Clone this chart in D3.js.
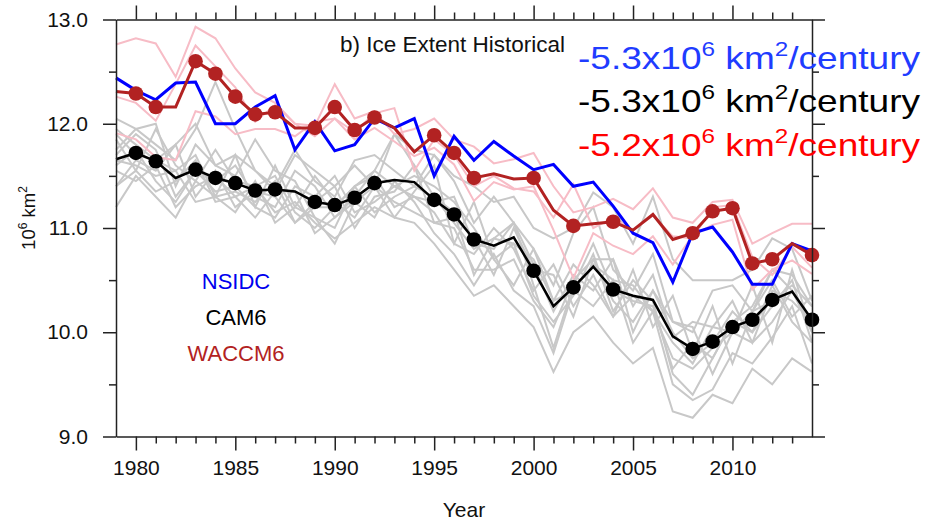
<!DOCTYPE html>
<html><head><meta charset="utf-8">
<script src="https://cdn.jsdelivr.net/npm/d3@7/dist/d3.min.js"></script>
<style>
body{margin:0;background:#fff;}
svg{display:block;}
text{font-family:"Liberation Sans",Arial,Helvetica,sans-serif;}
</style>
</head><body>
<svg id="c" width="935" height="522"></svg>
<script>
const years = [1979,1980,1981,1982,1983,1984,1985,1986,1987,1988,1989,1990,1991,1992,1993,1994,1995,1996,1997,1998,1999,2000,2001,2002,2003,2004,2005,2006,2007,2008,2009,2010,2011,2012,2013,2014];
const markerYears = [1980,1981,1983,1984,1985,1986,1987,1989,1990,1991,1992,1995,1996,1997,2000,2002,2004,2008,2009,2010,2011,2012,2014];

const nsidc = [12.44,12.32,12.23,12.39,12.40,12.00,12.00,12.16,12.27,11.75,12.02,11.74,11.80,12.05,11.96,12.05,11.50,11.88,11.65,11.83,11.69,11.56,11.61,11.40,11.44,11.21,10.95,10.86,10.48,10.95,11.01,10.77,10.46,10.46,10.85,10.78];
const cam6 = [11.66,11.72,11.64,11.48,11.56,11.48,11.43,11.36,11.37,11.35,11.25,11.22,11.29,11.43,11.46,11.44,11.27,11.13,10.89,10.83,10.91,10.59,10.25,10.43,10.63,10.41,10.35,10.31,9.96,9.84,9.91,10.05,10.12,10.31,10.39,10.12];
const waccm6 = [12.31,12.29,12.16,12.16,12.60,12.48,12.26,12.09,12.11,11.96,11.96,12.16,11.94,12.06,11.96,11.73,11.89,11.72,11.48,11.52,11.47,11.48,11.17,11.02,11.04,11.06,10.98,11.13,10.89,10.95,11.16,11.19,10.66,10.70,10.85,10.74];

const waccmMember1 = [12.76,12.82,12.77,12.45,12.93,12.82,12.53,12.30,12.20,12.00,11.98,12.38,12.05,12.12,11.90,11.95,12.05,11.85,11.78,11.62,11.66,11.72,11.40,11.15,11.20,11.28,11.18,11.38,11.10,11.05,11.25,11.27,10.85,10.95,11.04,11.04];
const waccmMember2 = [12.26,12.20,12.03,12.38,12.75,12.55,12.35,12.02,12.18,12.00,11.88,12.05,11.92,12.10,12.15,11.55,11.85,11.70,11.40,11.50,11.38,11.35,11.10,11.42,11.00,11.10,10.98,11.12,10.92,10.90,11.20,11.22,10.72,10.55,10.82,10.62];
const waccmMember3 = [11.91,11.85,11.68,11.65,12.12,12.07,11.90,11.95,11.95,11.88,12.02,12.05,11.85,11.96,11.83,11.69,11.77,11.61,11.26,11.44,11.37,11.40,10.98,10.52,10.95,10.83,10.75,10.92,10.65,10.93,11.03,11.08,10.41,10.60,10.69,10.56];

const camMember1 = [12.05,11.95,11.80,11.65,11.95,12.40,11.95,11.55,11.40,11.75,11.45,11.30,11.65,11.70,11.55,11.40,11.70,11.45,11.05,11.30,11.05,10.80,10.45,10.95,11.20,10.60,10.40,10.75,10.10,10.00,10.40,10.45,10.20,10.60,10.55,10.25];
const camMember2 = [11.75,11.95,12.00,11.40,11.80,11.60,11.50,11.85,11.55,11.45,11.10,11.00,11.40,11.55,11.90,11.60,11.30,11.15,10.55,10.90,10.85,10.35,10.10,10.35,10.75,10.20,10.50,10.30,9.60,9.40,9.75,10.10,10.25,10.60,10.40,10.05];
const camMember3 = [11.40,11.65,11.55,11.80,11.30,11.55,11.20,11.35,11.30,11.05,11.25,11.40,11.00,11.30,11.35,11.60,11.05,11.10,10.90,10.55,11.00,10.60,10.55,10.15,10.70,10.70,10.00,10.40,10.10,10.05,9.60,10.00,10.45,9.90,10.60,10.00];
const camMember4 = [11.95,11.80,11.65,11.55,11.70,11.30,11.70,11.20,11.60,11.20,11.50,11.25,11.10,11.40,11.10,11.35,11.60,10.85,11.25,10.70,10.45,10.80,10.30,10.65,10.45,10.15,10.60,10.05,10.35,9.80,10.25,9.70,10.20,10.50,10.15,10.35];
const camMember5 = [11.20,11.50,11.30,11.10,11.45,11.30,11.15,11.45,11.05,11.20,11.10,10.85,11.25,11.10,11.45,11.25,10.95,10.75,10.45,10.75,10.40,10.25,9.80,10.40,10.25,10.50,9.90,10.20,9.50,9.35,9.45,9.80,9.70,9.95,10.25,9.70];
const camMember6 = [11.60,11.75,11.45,11.25,11.55,11.35,11.40,11.20,11.10,11.40,11.30,11.50,11.15,11.25,11.40,11.30,11.25,11.30,10.85,10.80,11.05,10.65,10.20,10.55,10.40,10.70,10.25,10.55,9.95,10.10,10.05,10.30,9.90,10.40,10.30,10.10];
const camMember7 = [11.85,11.55,11.95,11.60,11.45,11.75,11.45,11.40,11.50,11.15,11.00,11.20,11.40,11.50,11.20,11.30,11.15,10.85,10.75,11.00,10.80,10.40,10.65,10.25,10.55,10.15,10.35,10.20,9.75,9.65,9.85,10.00,9.90,10.10,10.40,10.00];
const camMember8 = [11.40,11.55,11.35,11.45,11.65,11.25,11.30,11.10,11.35,11.35,10.95,11.10,11.25,11.40,11.25,11.15,11.05,11.00,10.60,10.60,10.70,10.30,10.05,10.50,10.70,10.30,10.10,10.40,10.00,9.75,9.90,10.20,10.00,10.25,10.50,9.90];
const camMember9 = [11.70,11.90,11.75,11.30,11.55,11.45,11.60,11.30,11.20,11.55,11.40,11.10,11.30,11.55,11.40,11.50,11.40,11.25,11.00,10.70,10.85,10.70,10.30,10.40,10.65,10.50,10.45,10.20,9.90,9.70,10.05,10.00,10.20,10.30,10.45,10.25];
const camMember10 = [11.65,11.60,11.50,11.55,11.25,11.30,11.35,11.25,11.45,11.05,11.20,11.20,11.40,11.15,11.30,11.40,11.30,11.05,10.80,10.90,11.05,10.45,9.85,10.45,10.85,10.40,10.30,10.25,9.65,9.90,9.75,10.10,10.00,10.45,10.10,9.90];
const camMember11 = [11.55,11.45,11.60,11.20,11.40,11.50,11.30,11.40,11.15,11.25,11.05,10.90,11.05,11.20,11.10,11.05,10.85,10.60,10.35,10.45,10.25,10.05,9.62,10.00,10.15,9.90,9.70,9.85,9.24,9.18,9.40,9.32,9.65,9.50,9.75,9.62];
const camMember12 = [11.90,11.70,11.65,11.80,12.00,11.60,11.70,11.55,11.35,11.70,11.55,11.40,11.60,11.40,11.90,11.75,11.70,11.50,11.40,11.25,11.30,11.00,10.90,11.00,11.34,11.20,10.85,11.30,10.70,10.50,10.50,10.50,10.60,10.90,10.80,10.30];

const xMajorTicks = [1980,1985,1990,1995,2000,2005,2010];
const yMajorTicks = [9.0,10.0,11.0,12.0,13.0];
const yMinorTicks = [9.5,10.5,11.5,12.5];

const camMembers = [camMember1,camMember2,camMember3,camMember4,camMember5,camMember6,camMember7,camMember8,camMember9,camMember10,camMember11,camMember12];
const waccmMembers = [waccmMember1,waccmMember2,waccmMember3];

const svg = d3.select("#c");
const L = 116, R = 812, T = 19.5, B = 436.5;
const x = d3.scaleLinear().domain([1979, 2014]).range([L, R]);
const y = d3.scaleLinear().domain([9, 13]).range([B, T]);

const line = d3.line().x((d,i) => x(years[i])).y(d => y(d));

const plot = svg.append("g");
camMembers.forEach(s => plot.append("path").attr("d", line(s)).attr("fill","none")
  .attr("stroke","#c8c8c8").attr("stroke-width",2));
waccmMembers.forEach(s => plot.append("path").attr("d", line(s)).attr("fill","none")
  .attr("stroke","#f7bcc6").attr("stroke-width",2));

function series(vals, color, width, dots) {
  plot.append("path").attr("d", line(vals)).attr("fill","none")
    .attr("stroke", color).attr("stroke-width", width);
  if (dots) {
    plot.selectAll(null).data(years.map((yr,i)=>({yr, v: vals[i]})).filter(d => markerYears.includes(d.yr)))
      .enter().append("circle")
      .attr("cx", d => x(d.yr)).attr("cy", d => y(d.v)).attr("r", 7.3)
      .attr("fill", color);
  }
}
series(cam6, "#000000", 2.5, true);
series(nsidc, "#0000ff", 3, false);
series(waccm6, "#b22222", 3, true);

// axes
const axColor = "#222";
function styleAxis(g){
  g.selectAll(".domain").attr("stroke", axColor).attr("stroke-width",1.5);
  g.selectAll(".tick line").attr("stroke", axColor).attr("stroke-width",1.5);
}
const xMinor = years.filter(v => !xMajorTicks.includes(v) && v !== 1979 && v !== 2014);
const gB = svg.append("g").attr("transform",`translate(0,${B})`)
  .call(d3.axisBottom(x).tickValues(xMajorTicks).tickSize(14).tickSizeOuter(0).tickFormat(d3.format("d")).tickPadding(10));
gB.selectAll("text").attr("font-size",21).attr("fill","#111").attr("font-family","'Liberation Sans',Arial,sans-serif");
styleAxis(gB);
const gBm = svg.append("g").attr("transform",`translate(0,${B})`)
  .call(d3.axisBottom(x).tickValues(xMinor).tickSize(7).tickSizeOuter(0).tickFormat(""));
styleAxis(gBm); gBm.select(".domain").remove();
const gT = svg.append("g").attr("transform",`translate(0,${T})`)
  .call(d3.axisTop(x).tickValues(xMajorTicks).tickSize(14).tickSizeOuter(0).tickFormat(""));
styleAxis(gT);
const gTm = svg.append("g").attr("transform",`translate(0,${T})`)
  .call(d3.axisTop(x).tickValues(xMinor).tickSize(7).tickSizeOuter(0).tickFormat(""));
styleAxis(gTm); gTm.select(".domain").remove();
const gL = svg.append("g").attr("transform",`translate(${L},0)`)
  .call(d3.axisLeft(y).tickValues(yMajorTicks).tickSize(13).tickSizeOuter(0).tickFormat(d3.format(".1f")).tickPadding(15));
gL.selectAll("text").attr("font-size",21).attr("fill","#111").attr("font-family","'Liberation Sans',Arial,sans-serif");
styleAxis(gL);
const gLm = svg.append("g").attr("transform",`translate(${L},0)`)
  .call(d3.axisLeft(y).tickValues(yMinorTicks).tickSize(7).tickSizeOuter(0).tickFormat(""));
styleAxis(gLm); gLm.select(".domain").remove();
const gR = svg.append("g").attr("transform",`translate(${R},0)`)
  .call(d3.axisRight(y).tickValues(yMajorTicks).tickSize(13).tickSizeOuter(0).tickFormat(""));
styleAxis(gR);
const gRm = svg.append("g").attr("transform",`translate(${R},0)`)
  .call(d3.axisRight(y).tickValues(yMinorTicks).tickSize(7).tickSizeOuter(0).tickFormat(""));
styleAxis(gRm); gRm.select(".domain").remove();

// axis titles
svg.append("text").attr("x", (L+R)/2).attr("y", 517).attr("text-anchor","middle")
  .attr("font-size",21).attr("fill","#111").text("Year");
const yt = svg.append("text").attr("transform","translate(35,218) rotate(-90)")
  .attr("text-anchor","middle").attr("font-size",18.5).attr("fill","#111");
yt.append("tspan").text("10");
yt.append("tspan").attr("font-size",12).attr("dy",-8).text("6");
yt.append("tspan").attr("dy",8).text(" km");
yt.append("tspan").attr("font-size",12).attr("dy",-8).text("2");

// title
svg.append("text").attr("x",340).attr("y",52).attr("font-size",22.5).attr("fill","#111")
  .text("b) Ice Extent Historical");

// legend
const legend = [["NSIDC","#0000ee",289],["CAM6","#000000",325],["WACCM6","#b22222",361]];
legend.forEach(([t,c,yy]) => svg.append("text").attr("x",236).attr("y",yy)
  .attr("text-anchor","middle").attr("font-size",22).attr("fill",c).text(t));

// trends
const trends = [["-5.3","#1f3cff",69],["-5.3","#000000",112],["-5.2","#ff0000",156]];
trends.forEach(([v,c,yy]) => {
  const g = svg.append("g").attr("transform",`translate(578,${yy})`);
  const t = g.append("text").attr("font-size",32).attr("fill",c);
  t.append("tspan").text(v + "x10");
  t.append("tspan").attr("font-size",21).attr("dy",-13).text("6");
  t.append("tspan").attr("dy",13).text(" km");
  t.append("tspan").attr("font-size",21).attr("dy",-13).text("2");
  t.append("tspan").attr("dy",13).text("/century");
  const w = t.node().getComputedTextLength();
  t.attr("transform", `scale(${342 / w},1)`);
});
</script>
</body></html>
